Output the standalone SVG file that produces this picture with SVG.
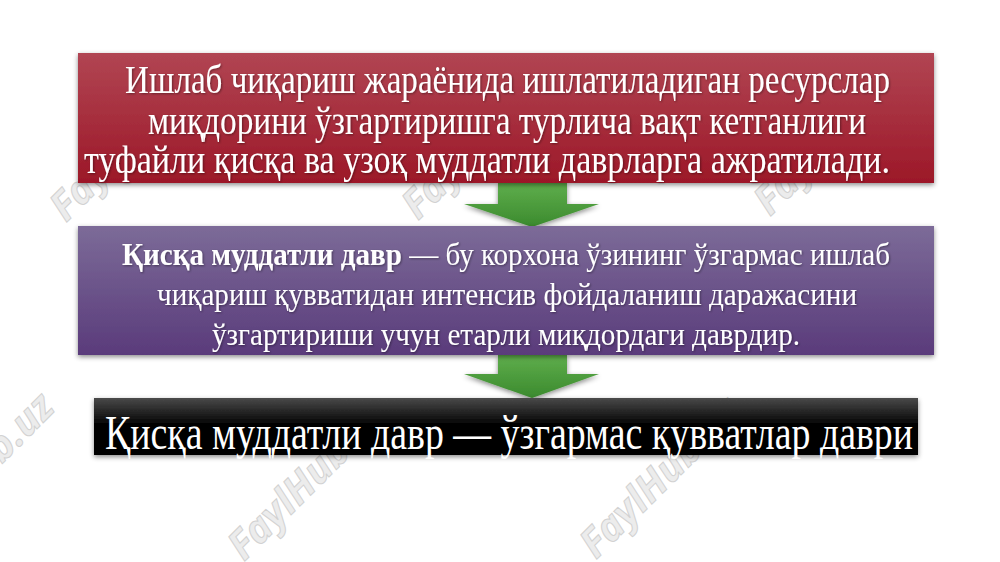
<svg xmlns="http://www.w3.org/2000/svg" width="1000" height="562" viewBox="0 0 1000 562">
  <defs>
    <linearGradient id="gRed" x1="0" y1="0" x2="0" y2="1">
      <stop offset="0" stop-color="#b14553"/>
      <stop offset="1" stop-color="#9c1828"/>
    </linearGradient>
    <linearGradient id="gPurple" x1="0" y1="0" x2="0" y2="1">
      <stop offset="0" stop-color="#7c6b98"/>
      <stop offset="1" stop-color="#5a3b7b"/>
    </linearGradient>
    <linearGradient id="gBlack" x1="0" y1="0" x2="0" y2="1">
      <stop offset="0" stop-color="#4a4a4a"/>
      <stop offset="0.45" stop-color="#050505"/>
      <stop offset="1" stop-color="#000000"/>
    </linearGradient>
    <linearGradient id="gGreen" x1="0" y1="0" x2="0" y2="1">
      <stop offset="0" stop-color="#5fae4c"/>
      <stop offset="1" stop-color="#3b8a2e"/>
    </linearGradient>
    <filter id="shadow" x="-5%" y="-20%" width="110%" height="140%">
      <feDropShadow dx="0" dy="2" stdDeviation="2.5" flood-color="#000" flood-opacity="0.45"/>
    </filter>
    <filter id="tshadow" x="-5%" y="-30%" width="110%" height="160%">
      <feDropShadow dx="1" dy="1" stdDeviation="1" flood-color="#000" flood-opacity="0.4"/>
    </filter>
  </defs>
  <style>
    .t { font-family: "Liberation Serif", "Times New Roman", serif; fill: #ffffff; }
    .red { font-size: 41px; }
    .pur { font-size: 32px; }
    .blk { font-size: 48px; }
    .wm { font-family: "Open Sans", "Liberation Sans", sans-serif; font-size: 40px; font-weight: bold; font-style: italic; fill: #ececec; stroke: #d2d2d2; stroke-width: 1; }
  </style>
  <rect width="1000" height="562" fill="#ffffff"/>

  <g id="watermarks">
    <text class="wm" transform="translate(66,223) rotate(-45)">FaylHub.uz</text>
    <text class="wm" transform="translate(418,221) rotate(-45)">FaylHub.uz</text>
    <text class="wm" transform="translate(770,217) rotate(-45)">FaylHub.uz</text>
    <text class="wm" transform="translate(-90,556) rotate(-45)">FaylHub.uz</text>
    <text class="wm" transform="translate(244,562) rotate(-45)">FaylHub.uz</text>
    <text class="wm" transform="translate(596,560) rotate(-45)">FaylHub.uz</text>
  </g>

  <g id="connectors">
    <path d="M498,183 H567 V204 H599 L532,227 L464,204 H498 Z" fill="url(#gGreen)" filter="url(#shadow)"/>
    <path d="M498,355 H567 V374 H599 L532,398 L464,374 H498 Z" fill="url(#gGreen)" filter="url(#shadow)"/>
  </g>

  <g id="node-red">
    <rect x="78" y="53" width="856" height="130" fill="url(#gRed)" filter="url(#shadow)"/>
    <g class="t red" filter="url(#tshadow)">
      <text x="125" y="93" textLength="765" lengthAdjust="spacingAndGlyphs">Ишлаб чиқариш жараёнида ишлатиладиган ресурслар</text>
      <text x="148" y="134" textLength="718" lengthAdjust="spacingAndGlyphs">миқдорини ўзгартиришга турлича вақт кетганлиги</text>
      <text x="84" y="173" textLength="806" lengthAdjust="spacingAndGlyphs">туфайли қисқа ва узоқ муддатли даврларга ажратилади.</text>
    </g>
  </g>

  <g id="node-purple">
    <rect x="78" y="226" width="856" height="129" fill="url(#gPurple)" filter="url(#shadow)"/>
    <g class="t pur" filter="url(#tshadow)">
      <text x="122" y="265" textLength="768" lengthAdjust="spacingAndGlyphs"><tspan font-weight="bold">Қисқа муддатли давр</tspan> — бу корхона ўзининг ўзгармас ишлаб</text>
      <text x="157" y="305" textLength="700" lengthAdjust="spacingAndGlyphs">чиқариш қувватидан интенсив фойдаланиш даражасини</text>
      <text x="212" y="345" textLength="588" lengthAdjust="spacingAndGlyphs">ўзгартириши учун етарли миқдордаги даврдир.</text>
    </g>
  </g>

  <g id="node-black">
    <rect x="94" y="398" width="824" height="57" fill="url(#gBlack)" filter="url(#shadow)"/>
    <text class="t blk" x="105" y="449" textLength="808" lengthAdjust="spacingAndGlyphs">Қисқа муддатли давр — ўзгармас қувватлар даври</text>
  </g>
</svg>
